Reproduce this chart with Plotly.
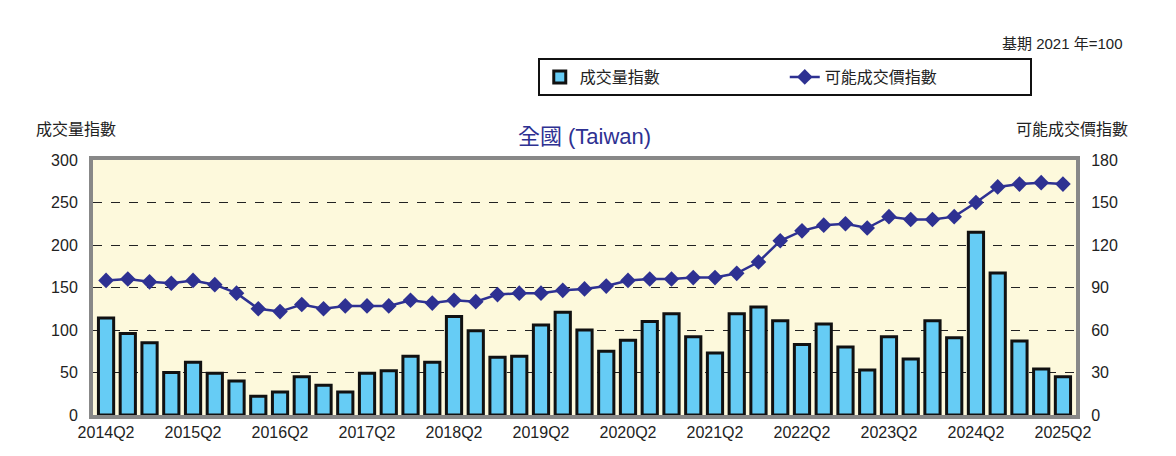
import plotly.graph_objects as go

quarters = [f"{y}Q{q}" for y in range(2014, 2026) for q in range(1, 5)][1:46]
volume = [114,96,85,50,62,49,40,22,27,45,35,27,49,52,69,62,116,99,68,69,106,121,100,75,88,110,119,92,73,119,127,111,83,107,80,53,92,66,111,91,215,167,87,54,45]
price = [95,96,94,93,95,92,86,75,73,78,75,77,77,77,81,79,81,80,85,86,86,88,89,91,95,96,96,97,97,100,108,123,130,134,135,132,140,138,138,140,150,161,163,164,163]
tickvals = [q for q in quarters if q.endswith("Q2")]

fig = go.Figure()
fig.add_bar(x=quarters, y=volume, name="成交量指數", marker=dict(color="#66ccf5", line=dict(color="#111", width=3)), width=0.7)
fig.add_scatter(x=quarters, y=price, name="可能成交價指數", yaxis="y2", mode="lines+markers",
                line=dict(color="#2e3192", width=2.5), marker=dict(symbol="diamond", size=12, color="#2e3192"))
fig.update_layout(
    width=1176, height=456, margin=dict(l=85, r=108, t=152, b=49),
    paper_bgcolor="white", bargap=0.3,
    font=dict(family="Liberation Sans, Noto Sans CJK TC", size=16, color="#222"),
    title=dict(text="全國 (Taiwan)", x=0.5, xref="paper", y=0.735, xanchor="center", font=dict(size=22, color="#2e3192")),
    xaxis=dict(tickvals=tickvals, showline=True, linecolor="#888", linewidth=4, mirror=True, ticks="", range=[-0.6, 44.6]),
    yaxis=dict(range=[0, 300], dtick=50, showgrid=True, gridcolor="#222", griddash="dash", gridwidth=1, zeroline=False,
               showline=True, linecolor="#888", linewidth=4, ticklabelstandoff=8),
    yaxis2=dict(range=[0, 180], dtick=30, overlaying="y", side="right", showgrid=False, showline=True, linecolor="#888", linewidth=4,
                ticklabelstandoff=8),
    legend=dict(orientation="h", x=0.955, y=1.40, xanchor="right", yanchor="top", bordercolor="#111", borderwidth=2,
                font=dict(size=16), entrywidth=200),
    plot_bgcolor="#fdf9dc",
)
fig.add_annotation(text="基期 2021 年=100", xref="paper", yref="paper", x=1.05, y=1.50, showarrow=False, xanchor="right", font=dict(size=15))
fig.add_annotation(text="成交量指數", xref="paper", yref="paper", x=-0.06, y=1.16, showarrow=False, xanchor="left", font=dict(size=16))
fig.add_annotation(text="可能成交價指數", xref="paper", yref="paper", x=1.055, y=1.16, showarrow=False, xanchor="right", font=dict(size=16))
fig.write_html("out.html")
